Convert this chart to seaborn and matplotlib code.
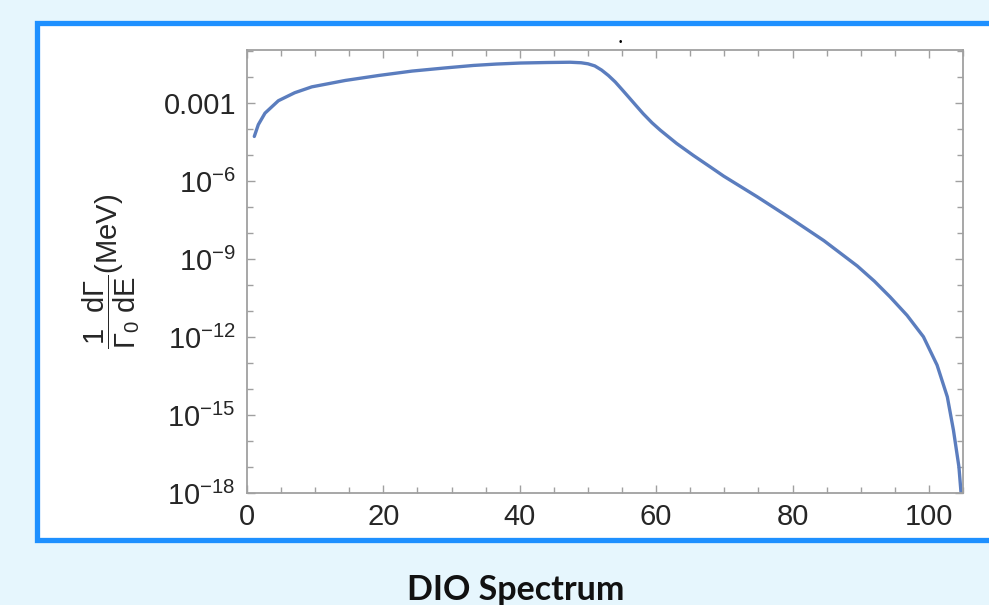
import numpy as np
import pandas as pd
import matplotlib
matplotlib.use("Agg")
import matplotlib.pyplot as plt
import matplotlib.ticker as mticker
from matplotlib.patches import Rectangle
import seaborn as sns

# ---- data ----
energy_mev = [1.07, 1.66, 2.64, 4.6, 7.0, 9.5, 14.4, 19.3, 24.2, 29.0, 33.2, 36.5,
              40.1, 44.0, 47.4, 49.0, 50.0, 51.0, 52.0, 53.0, 54.0, 55.0, 56.0,
              57.0, 58.1, 59.4, 60.6, 63.0, 65.5, 67.9, 69.9, 74.8, 79.7, 84.6,
              89.5, 92.0, 94.3, 96.8, 99.2, 101.2, 102.7, 103.6, 104.4, 104.7]
rate = [5.2e-05, 1.48e-04, 4.1e-04, 1.23e-03, 2.5e-03, 4.2e-03, 7.4e-03, 1.15e-02,
        1.7e-02, 2.24e-02, 2.8e-02, 3.16e-02, 3.47e-02, 3.63e-02, 3.72e-02,
        3.55e-02, 3.24e-02, 2.69e-02, 1.86e-02, 1.15e-02, 6.5e-03, 3.3e-03,
        1.66e-03, 8.3e-04, 3.9e-04, 1.74e-04, 9.1e-05, 2.8e-05, 9.5e-06, 3.55e-06,
        1.55e-06, 2.5e-07, 3.7e-08, 5.1e-09, 5.4e-10, 1.41e-10, 3.5e-11, 6.8e-12,
        1.02e-12, 8.3e-14, 5.0e-15, 2.6e-16, 1.02e-17, 1.12e-18]
x_ticks = [0, 20, 40, 60, 80, 100]
y_ticks = [1e-18, 1e-15, 1e-12, 1e-9, 1e-6, 1e-3]
y_tick_labels = [r"$\mathregular{10^{-18}}$", r"$\mathregular{10^{-15}}$",
                 r"$\mathregular{10^{-12}}$", r"$\mathregular{10^{-9}}$",
                 r"$\mathregular{10^{-6}}$", "0.001"]
title = "DIO Spectrum"
ylabel = r"$\dfrac{1\ \ d\Gamma}{\Gamma_0\ dE}$(MeV)"

df = pd.DataFrame({"E": energy_mev, "rate": rate})

sns.set_style("ticks")
plt.rcParams["font.family"] = ["Liberation Sans", "DejaVu Sans"]
plt.rcParams["mathtext.fontset"] = "custom"
plt.rcParams["mathtext.rm"] = "Liberation Sans"
plt.rcParams["mathtext.it"] = "Liberation Sans"
plt.rcParams["mathtext.bf"] = "Liberation Sans:bold"

W, H = 989, 605
fig = plt.figure(figsize=(W / 100, H / 100), dpi=100)
fig.patch.set_facecolor("#E6F6FD")

# white panel with blue frame
frame = Rectangle((36.5 / W, (H - 540) / H), (1010 - 36.5) / W, (540 - 23) / H,
                  transform=fig.transFigure, facecolor="white",
                  edgecolor="#1E90FF", linewidth=3.8, zorder=-5)
fig.patches.append(frame)

ax = fig.add_axes([247 / W, (H - 493) / H, (963 - 247) / W, (493 - 50) / H])
ax.set_zorder(2)
ax.set_facecolor("white")

sns.lineplot(data=df, x="E", y="rate", ax=ax, color="#5B7DBE", linewidth=2.4,
             sort=False, estimator=None)
for ln in ax.lines:
    ln.set_solid_joinstyle("round")
    ln.set_solid_capstyle("round")

ax.set_yscale("log")
ax.set_xlim(0, 105)
ax.set_ylim(1e-18, 0.11)

ax.xaxis.set_major_locator(mticker.FixedLocator(x_ticks))
ax.xaxis.set_minor_locator(mticker.MultipleLocator(5))
ax.yaxis.set_major_locator(mticker.FixedLocator(y_ticks))
ax.yaxis.set_major_formatter(mticker.FixedFormatter(y_tick_labels))
ax.yaxis.set_minor_locator(mticker.LogLocator(base=10, subs=(1.0,), numticks=40))
ax.yaxis.set_minor_formatter(mticker.NullFormatter())

for s in ax.spines.values():
    s.set_visible(True)
    s.set_color("#A0A0A0")
    s.set_linewidth(1.3)

ax.tick_params(which="both", direction="in", top=True, right=True,
               color="#A0A0A0", width=1.0)
ax.tick_params(which="major", length=6)
ax.tick_params(which="minor", length=4)
ax.tick_params(axis="both", which="major", labelsize=21, labelcolor="#262626")
ax.tick_params(axis="x", which="major", pad=7)
ax.tick_params(axis="y", which="major", pad=8)

ax.set_xlabel("")
ax.set_ylabel(ylabel, fontsize=21, color="#262626")
ax.yaxis.set_label_coords(-0.147, 0.5)

fig.text(516 / W, (H - 600) / H, title, ha="center", va="baseline",
         fontsize=24.5, fontweight="bold", family=["Lato", "DejaVu Sans"],
         color="#111111")
fig.text(620 / W, (H - 42) / H, "•", ha="center", va="center", fontsize=7,
         color="black")

fig.savefig("out.png", dpi=100, facecolor=fig.get_facecolor())
